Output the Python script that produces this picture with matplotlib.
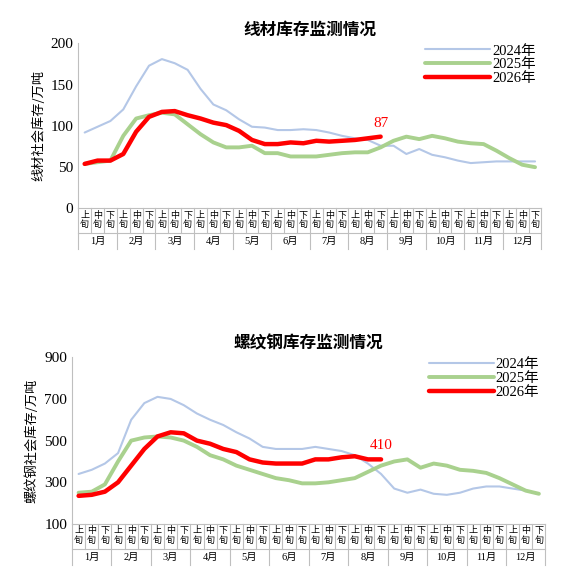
import matplotlib.pyplot as plt
from matplotlib.lines import Line2D

plt.rcParams['font.family'] = ['Liberation Serif', 'Noto Sans CJK SC', 'DejaVu Sans']

months = [f"{m}月" for m in range(1, 13)]
decades = ["上\n旬", "中\n旬", "下\n旬"]
years = ["2024年", "2025年", "2026年"]
colors = ["#b4c7e7", "#a9d18e", "#ff0000"]
widths = [1.5, 2.8, 3.2]

wire_2024 = [92, 99, 106, 120, 148, 173, 181, 176, 168, 145, 126, 119, 108, 99, 98, 95, 95, 96,
             95, 92, 88, 85, 83, 76, 76, 66, 72, 65, 62, 58, 55, 56, 57, 57, 57, 57]
wire_2025 = [54, 56, 58, 88, 109, 113, 116, 114, 102, 90, 80, 74, 74, 76, 67, 67, 63, 63,
             63, 65, 67, 68, 68, 74, 82, 87, 84, 88, 85, 81, 79, 78, 70, 61, 53, 50]
wire_2026 = [54, 58, 58, 66, 93, 111, 117, 118, 113, 109, 104, 101, 94, 83, 78, 78, 80, 79,
             82, 81, 82, 83, 85, 87]

rebar_2024 = [340, 360, 390, 440, 600, 680, 710, 700, 670, 630, 600, 575, 540, 510, 470, 460, 460, 460,
              470, 460, 450, 430, 390, 340, 270, 250, 265, 245, 240, 250, 270, 280, 280, 270, 260, 245]
rebar_2025 = [250, 255, 290, 400, 500, 515, 520, 515, 500, 470, 430, 410, 380, 360, 340, 320, 310, 295,
              295, 300, 310, 320, 350, 380, 400, 410, 370, 390, 380, 360, 355, 345, 320, 290, 260, 245]
rebar_2026 = [235, 240, 255, 300, 380, 460, 520, 540, 535, 500, 485, 460, 445, 410, 395, 390, 390, 390,
              410, 410, 420, 425, 410, 410]

panels = [
    dict(title="线材库存监测情况", ylabel="线材社会库存/万吨",
         series=[wire_2024, wire_2025, wire_2026], ylim=(0, 200), ticks=[0, 50, 100, 150, 200],
         rect=[0.138, 0.64, 0.817, 0.285], note_y=8),
    dict(title="螺纹钢库存监测情况", ylabel="螺纹钢社会库存/万吨",
         series=[rebar_2024, rebar_2025, rebar_2026], ylim=(100, 900), ticks=[100, 300, 500, 700, 900],
         rect=[0.127, 0.095, 0.835, 0.288], note_y=35),
]

fig = plt.figure(figsize=(5.67, 5.79), dpi=100)
cjk = ['Noto Sans CJK SC']
for p in panels:
    ax = fig.add_axes(p["rect"])
    n = 36
    for data, c, w, lab in zip(p["series"], colors, widths, years):
        ax.plot(range(len(data)), data, color=c, lw=w, label=lab, solid_capstyle='round')
    last = p["series"][2]
    ax.text(len(last) - 1, last[-1] + p["note_y"], str(last[-1]), color="red", fontsize=11,
            ha="center", va="bottom")
    ax.set_xlim(-0.5, n - 0.5)
    ax.set_ylim(*p["ylim"])
    ax.set_yticks(p["ticks"])
    ax.tick_params(axis='y', length=0, labelsize=11)
    ax.set_xticks([])
    for s in ["top", "right"]:
        ax.spines[s].set_visible(False)
    ax.spines["left"].set_color("#bfbfbf")
    ax.spines["bottom"].set_color("#bfbfbf")
    ax.set_title(p["title"], fontsize=12, fontweight="bold", family=cjk, pad=6)
    ax.set_ylabel(p["ylabel"], family=cjk, fontsize=9.5)
    # category axis
    tr = ax.get_xaxis_transform()
    for i in range(n):
        ax.text(i, -0.015, decades[i % 3], transform=tr, ha="center", va="top",
                fontsize=6.5, family=cjk, linespacing=1.0)
    for i in range(n + 1):
        bottom = -0.245 if i % 3 == 0 else -0.15
        ax.add_line(Line2D([i - 0.5, i - 0.5], [0, bottom], transform=tr, color="#bfbfbf",
                           lw=0.8, clip_on=False))
    ax.add_line(Line2D([-0.5, n - 0.5], [-0.15, -0.15], transform=tr, color="#bfbfbf",
                       lw=0.8, clip_on=False))
    for m, name in enumerate(months):
        ax.text(m * 3 + 1, -0.2, name, transform=tr, ha="center", va="center",
                fontsize=7.5, family=['Liberation Serif'] + cjk)
    leg = ax.legend(loc="upper right", frameon=False, fontsize=10.5, handlelength=4.5,
                    handletextpad=0.1, borderaxespad=0, labelspacing=0.05,
                    bbox_to_anchor=(1.0, 1.03))
    for t in leg.get_texts():
        t.set_family(['Liberation Serif'] + cjk)

fig.savefig("out.png")
